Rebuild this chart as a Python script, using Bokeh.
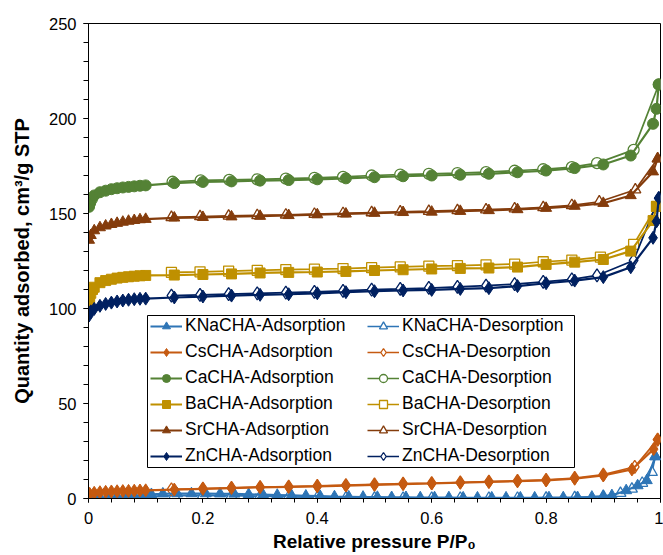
import math
from bokeh.plotting import figure
from bokeh.models import Range1d, FixedTicker, Legend, LegendItem, BoxAnnotation
from bokeh.embed import file_html
from bokeh.resources import INLINE

# ---------------- data ----------------
kna_ads_p = [0.005, 0.02, 0.035, 0.05, 0.065, 0.08, 0.095, 0.11, 0.13, 0.155, 0.18, 0.205,
             0.23, 0.255, 0.28, 0.305, 0.33, 0.355, 0.38, 0.405, 0.43, 0.455, 0.48, 0.505,
             0.53, 0.555, 0.58, 0.605, 0.63, 0.655, 0.68, 0.705, 0.73, 0.755, 0.78, 0.805,
             0.83, 0.855, 0.88, 0.9, 0.915, 0.94, 0.96, 0.976, 0.991]
kna_ads_q = [0.2, 0.5, 0.8, 1.0, 1.2, 1.4, 1.6, 2.2, 2.5, 2.6, 2.6, 2.6,
             2.5, 2.4, 2.2, 2.0, 1.8, 1.6, 1.4, 1.2, 1.0, 0.9, 0.8, 0.7,
             0.6, 0.6, 0.5, 0.5, 0.5, 0.4, 0.4, 0.4, 0.4, 0.4, 0.4, 0.5,
             0.5, 0.6, 0.8, 1.0, 1.6, 4.2, 6.8, 9.5, 22.1]
kna_des_p = [0.991, 0.985, 0.968, 0.95, 0.93, 0.9, 0.85, 0.8, 0.75, 0.7, 0.65, 0.6, 0.55,
             0.5, 0.45, 0.4, 0.35, 0.3, 0.25, 0.2, 0.15, 0.1, 0.05, 0.01]
kna_des_q = [22.1, 13.8, 8.1, 5.0, 2.8, 1.2, 0.5, 0.3, 0.2, 0.2, 0.2, 0.2, 0.2,
             0.3, 0.4, 0.6, 0.9, 1.2, 1.5, 1.6, 1.5, 1.1, 0.5, 0.1]

cs_ads_p = [0.002, 0.01, 0.02, 0.03, 0.04, 0.05, 0.06, 0.07, 0.08, 0.09, 0.1, 0.15, 0.2,
            0.25, 0.3, 0.35, 0.4, 0.45, 0.5, 0.55, 0.6, 0.65, 0.7, 0.75, 0.8, 0.85, 0.9,
            0.95, 0.988, 0.995]
cs_ads_q = [2.5, 3.0, 3.3, 3.5, 3.7, 3.8, 3.9, 4.0, 4.1, 4.2, 4.3, 4.7, 5.1,
            5.5, 5.9, 6.1, 6.4, 6.8, 7.2, 7.6, 7.9, 8.3, 8.7, 9.1, 9.5, 10.4, 12.1,
            15.3, 26.0, 31.0]
cs_des_p = [0.995, 0.955, 0.9, 0.85, 0.8, 0.75, 0.7, 0.65, 0.6, 0.55, 0.5, 0.45, 0.4,
            0.35, 0.3, 0.25, 0.2, 0.145]
cs_des_q = [31.0, 16.7, 12.6, 10.8, 9.8, 9.3, 8.9, 8.5, 8.1, 7.8, 7.4, 7.0, 6.6,
            6.3, 6.0, 5.6, 5.2, 4.8]

ca_ads_p = [0.001, 0.003, 0.006, 0.01, 0.02, 0.03, 0.04, 0.05, 0.06, 0.07, 0.08, 0.09, 0.1,
            0.15, 0.2, 0.25, 0.3, 0.35, 0.4, 0.45, 0.5, 0.55, 0.6, 0.65, 0.7, 0.75, 0.8,
            0.85, 0.9, 0.948, 0.987, 0.993, 0.997]
ca_ads_q = [153.5, 155.5, 157.5, 159.5, 161.2, 162.0, 162.8, 163.3, 163.7, 164.0, 164.3, 164.6, 164.8,
            166.0, 166.6, 166.9, 167.3, 167.6, 168.0, 168.5, 169.1, 169.6, 170.0, 170.4, 170.9, 171.7, 172.6,
            173.9, 175.8, 180.5, 197.2, 205.1, 217.9]
ca_des_p = [0.997, 0.953, 0.889, 0.845, 0.795, 0.745, 0.695, 0.645, 0.595, 0.545, 0.495,
            0.445, 0.395, 0.345, 0.295, 0.246, 0.196, 0.147]
ca_des_q = [217.9, 183.5, 176.5, 174.4, 173.3, 172.5, 171.8, 171.3, 170.9, 170.5, 170.0,
            169.3, 168.8, 168.4, 168.0, 167.7, 167.4, 166.7]

ba_ads_p = [0.001, 0.002, 0.004, 0.007, 0.01, 0.02, 0.03, 0.04, 0.05, 0.06, 0.07, 0.08, 0.09, 0.1,
            0.15, 0.2, 0.25, 0.3, 0.35, 0.4, 0.45, 0.5, 0.55, 0.6, 0.65, 0.7, 0.75, 0.8,
            0.85, 0.9, 0.948, 0.987, 0.993]
ba_ads_q = [102.0, 105.0, 108.0, 110.0, 111.2, 113.6, 114.7, 115.4, 116.0, 116.4, 116.7, 117.0, 117.2, 117.4,
            117.6, 117.9, 118.2, 118.7, 119.0, 119.2, 119.5, 120.0, 120.4, 120.8, 121.1, 121.3, 121.8, 123.2,
            124.4, 125.8, 130.2, 146.3, 153.7]
ba_des_p = [0.993, 0.953, 0.895, 0.845, 0.795, 0.745, 0.695, 0.645, 0.595, 0.545, 0.495,
            0.445, 0.395, 0.345, 0.295, 0.245, 0.195, 0.145]
ba_des_q = [153.7, 133.7, 127.0, 125.5, 124.6, 123.4, 123.0, 122.6, 122.3, 121.9, 121.5,
            121.0, 120.7, 120.5, 120.1, 119.7, 119.3, 119.0]

sr_ads_p = [0.001, 0.004, 0.01, 0.02, 0.03, 0.04, 0.05, 0.06, 0.07, 0.08, 0.09, 0.1,
            0.15, 0.2, 0.25, 0.3, 0.35, 0.4, 0.45, 0.5, 0.55, 0.6, 0.65, 0.7, 0.75, 0.8,
            0.85, 0.9, 0.948, 0.987, 0.995]
sr_ads_q = [136.0, 138.5, 141.0, 142.6, 143.5, 144.3, 144.9, 145.5, 146.0, 146.4, 146.8, 147.0,
            147.7, 148.0, 148.3, 148.6, 149.0, 149.4, 149.8, 150.2, 150.6, 150.8, 151.2, 151.6, 152.1, 152.8,
            153.9, 155.4, 159.5, 172.0, 178.8]
sr_des_p = [0.995, 0.956, 0.893, 0.845, 0.795, 0.745, 0.695, 0.645, 0.595, 0.545, 0.495,
            0.445, 0.395, 0.345, 0.295, 0.245, 0.195, 0.145]
sr_des_q = [178.8, 162.5, 156.2, 154.3, 153.2, 152.5, 152.0, 151.6, 151.2, 150.9, 150.5,
            150.1, 149.7, 149.3, 149.0, 148.7, 148.4, 148.0]

zn_ads_p = [0.001, 0.004, 0.01, 0.02, 0.03, 0.04, 0.05, 0.06, 0.07, 0.08, 0.09, 0.1,
            0.15, 0.2, 0.25, 0.3, 0.35, 0.4, 0.45, 0.5, 0.55, 0.6, 0.65, 0.7, 0.75, 0.8,
            0.85, 0.9, 0.948, 0.987, 0.993, 0.997]
zn_ads_q = [96.3, 98.5, 99.8, 101.4, 102.4, 103.1, 103.7, 104.2, 104.6, 104.9, 105.1, 105.2,
            105.8, 106.3, 106.8, 107.2, 107.5, 108.0, 108.6, 109.1, 109.5, 109.8, 110.3, 110.7, 111.8, 113.3,
            114.7, 116.5, 121.7, 137.2, 145.8, 158.1]
zn_des_p = [0.997, 0.953, 0.889, 0.845, 0.795, 0.745, 0.695, 0.645, 0.595, 0.545, 0.495,
            0.445, 0.395, 0.345, 0.295, 0.245, 0.195, 0.145]
zn_des_q = [158.1, 125.3, 117.4, 115.3, 114.0, 112.8, 112.0, 111.4, 110.8, 110.3, 109.9,
            109.3, 108.8, 108.4, 108.0, 107.6, 107.2, 106.8]

samples = ["KNaCHA", "CsCHA", "CaCHA", "BaCHA", "SrCHA", "ZnCHA"]
x_ticks = [0, 0.2, 0.4, 0.6, 0.8, 1.0]
y_ticks = [0, 50, 100, 150, 200, 250]

series = {
    "KNaCHA": (kna_ads_p, kna_ads_q, kna_des_p, kna_des_q),
    "CsCHA": (cs_ads_p, cs_ads_q, cs_des_p, cs_des_q),
    "CaCHA": (ca_ads_p, ca_ads_q, ca_des_p, ca_des_q),
    "BaCHA": (ba_ads_p, ba_ads_q, ba_des_p, ba_des_q),
    "SrCHA": (sr_ads_p, sr_ads_q, sr_des_p, sr_des_q),
    "ZnCHA": (zn_ads_p, zn_ads_q, zn_des_p, zn_des_q),
}

# ---------------- styles ----------------
style = {
    "KNaCHA": dict(color="#2E75B6", marker="triangle", size=11),
    "CsCHA": dict(color="#C55A11", marker="diamond", size=13),
    "CaCHA": dict(color="#548235", marker="circle", size=11),
    "BaCHA": dict(color="#BF9000", marker="square", size=10),
    "SrCHA": dict(color="#843C0C", marker="triangle", size=11),
    "ZnCHA": dict(color="#002060", marker="diamond", size=13),
}

FONT = "Liberation Sans"

p = figure(width=663, height=555, output_backend="svg", toolbar_location=None,
           x_range=Range1d(0, 1), y_range=Range1d(0, 250),
           min_border_left=88, min_border_right=3, min_border_top=23, min_border_bottom=57,
           background_fill_color="white", border_fill_color="white")
p.xgrid.visible = False
p.ygrid.visible = False
p.outline_line_color = "black"
p.outline_line_width = 1

p.xaxis.ticker = FixedTicker(ticks=x_ticks, minor_ticks=[i * 0.04 for i in range(26)])
p.yaxis.ticker = FixedTicker(ticks=y_ticks, minor_ticks=list(range(0, 251, 10)))
p.xaxis.major_label_overrides = {0: "0", 1: "1", 1.0: "1"}

for ax in (p.xaxis[0], p.yaxis[0]):
    ax.axis_line_color = "black"
    ax.major_tick_line_color = "black"
    ax.minor_tick_line_color = "black"
    ax.major_tick_in = 0
    ax.minor_tick_in = 0
    ax.major_label_text_font = FONT
    ax.major_label_text_font_size = "16.5px"
    ax.major_label_text_color = "black"
    ax.axis_label_text_font = FONT
    ax.axis_label_text_font_style = "bold"
    ax.axis_label_text_color = "black"

p.xaxis.axis_label_text_font_size = "19px"
p.yaxis.axis_label_text_font_size = "20px"

p.xaxis.major_tick_out = 4
p.xaxis.minor_tick_out = 4
p.xaxis.major_label_standoff = 9
p.xaxis.axis_label_standoff = 4
p.yaxis.major_tick_out = 5
p.yaxis.minor_tick_out = 5
p.yaxis.major_label_standoff = 7
p.yaxis.axis_label_standoff = 13

p.xaxis.axis_label = "Relative pressure P/P\u2080"
p.yaxis.axis_label = "Quantity adsorbed, cm\u00b3/g STP"

# desorption branches first (underneath), then adsorption branches on top
des_items = []
for name in samples:
    ap, aq, dp, dq = series[name]
    st = style[name]
    c = st["color"]
    l2 = p.line(dp, dq, line_color=c, line_width=1.7)
    s2 = p.scatter(dp, dq, marker=st["marker"], size=st["size"],
                   fill_color="white", line_color=c, line_width=1.3)
    des_items.append(LegendItem(label=name + "-Desorption", renderers=[l2, s2]))

ads_items = []
for name in samples:
    ap, aq, dp, dq = series[name]
    st = style[name]
    c = st["color"]
    l1 = p.line(ap, aq, line_color=c, line_width=2.2)
    s1 = p.scatter(ap, aq, marker=st["marker"], size=st["size"],
                   fill_color=c, line_color=c, line_width=1)
    ads_items.append(LegendItem(label=name + "-Adsorption", renderers=[l1, s1]))

# legend frame (screen units, relative to the plot frame)
box = BoxAnnotation(left=59, right=486, bottom=31, top=183,
                    left_units="screen", right_units="screen",
                    bottom_units="screen", top_units="screen",
                    fill_color="white", fill_alpha=1.0,
                    line_color="black", line_width=1, line_alpha=1.0)
p.add_layout(box)

def make_legend(items, loc):
    lg = Legend(items=items, location=loc, orientation="vertical",
                background_fill_alpha=0, border_line_color=None,
                padding=0, margin=0, spacing=5,
                glyph_width=32, glyph_height=20, label_height=20,
                label_standoff=3,
                label_text_font=FONT, label_text_font_size="17.5px",
                label_text_color="black")
    return lg

p.add_layout(make_legend(ads_items, (62, 32)))
p.add_layout(make_legend(des_items, (279, 32)))

open("out.html", "w").write(file_html(p, INLINE))
